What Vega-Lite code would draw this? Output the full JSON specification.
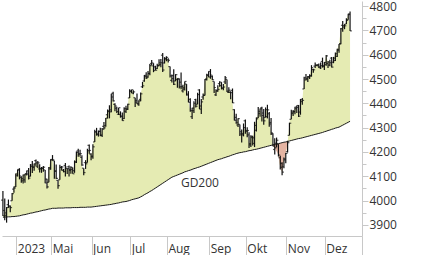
{
"$schema": "https://vega.github.io/schema/vega-lite/v6.json",
"width": 360, "height": 235, "padding": 0, "background": "white",
"config": {"view": {"stroke": null}, "axis": {"labelFont": "Open Sans", "labelFontSize": 12, "labelColor": "#333", "domainColor": "#c8c8c8", "tickColor": "#c8c8c8", "grid": false, "labelOverlap": false}},
"data": {"values": [
{"d":"2023-03-22","o":4002,"h":4039,"l":3936,"c":3937,"g":3931},
{"d":"2023-03-23","o":3959,"h":4008,"l":3919,"c":3949,"g":3932},
{"d":"2023-03-24","o":3939,"h":3973,"l":3909,"c":3971,"g":3932},
{"d":"2023-03-27","o":3983,"h":4004,"l":3970,"c":3978,"g":3933},
{"d":"2023-03-28","o":3974,"h":3979,"l":3952,"c":3971,"g":3933},
{"d":"2023-03-29","o":3999,"h":4031,"l":3999,"c":4028,"g":3934},
{"d":"2023-03-30","o":4047,"h":4058,"l":4032,"c":4051,"g":3934},
{"d":"2023-03-31","o":4056,"h":4111,"l":4056,"c":4109,"g":3935},
{"d":"2023-04-03","o":4102,"h":4128,"l":4099,"c":4125,"g":3936},
{"d":"2023-04-04","o":4128,"h":4133,"l":4087,"c":4101,"g":3937},
{"d":"2023-04-05","o":4095,"h":4100,"l":4073,"c":4090,"g":3939},
{"d":"2023-04-06","o":4081,"h":4107,"l":4070,"c":4105,"g":3941},
{"d":"2023-04-10","o":4085,"h":4110,"l":4073,"c":4109,"g":3942},
{"d":"2023-04-11","o":4110,"h":4124,"l":4103,"c":4109,"g":3944},
{"d":"2023-04-12","o":4122,"h":4134,"l":4087,"c":4092,"g":3946},
{"d":"2023-04-13","o":4100,"h":4150,"l":4099,"c":4146,"g":3948},
{"d":"2023-04-14","o":4140,"h":4163,"l":4113,"c":4138,"g":3949},
{"d":"2023-04-17","o":4137,"h":4152,"l":4123,"c":4151,"g":3951},
{"d":"2023-04-18","o":4164,"h":4169,"l":4140,"c":4155,"g":3953},
{"d":"2023-04-19","o":4139,"h":4163,"l":4134,"c":4155,"g":3954},
{"d":"2023-04-20","o":4130,"h":4149,"l":4115,"c":4130,"g":3956},
{"d":"2023-04-21","o":4132,"h":4138,"l":4114,"c":4134,"g":3958},
{"d":"2023-04-24","o":4132,"h":4142,"l":4118,"c":4137,"g":3960},
{"d":"2023-04-25","o":4126,"h":4126,"l":4071,"c":4072,"g":3961},
{"d":"2023-04-26","o":4088,"h":4090,"l":4049,"c":4056,"g":3963},
{"d":"2023-04-27","o":4075,"h":4138,"l":4075,"c":4135,"g":3965},
{"d":"2023-04-28","o":4130,"h":4170,"l":4127,"c":4169,"g":3966},
{"d":"2023-05-01","o":4167,"h":4187,"l":4164,"c":4168,"g":3968},
{"d":"2023-05-02","o":4164,"h":4164,"l":4090,"c":4120,"g":3968},
{"d":"2023-05-03","o":4122,"h":4148,"l":4089,"c":4091,"g":3968},
{"d":"2023-05-04","o":4083,"h":4083,"l":4048,"c":4061,"g":3969},
{"d":"2023-05-05","o":4085,"h":4147,"l":4085,"c":4136,"g":3969},
{"d":"2023-05-08","o":4137,"h":4142,"l":4124,"c":4138,"g":3969},
{"d":"2023-05-09","o":4124,"h":4130,"l":4116,"c":4119,"g":3969},
{"d":"2023-05-10","o":4144,"h":4154,"l":4099,"c":4138,"g":3970},
{"d":"2023-05-11","o":4132,"h":4133,"l":4109,"c":4131,"g":3970},
{"d":"2023-05-12","o":4139,"h":4144,"l":4099,"c":4124,"g":3970},
{"d":"2023-05-15","o":4127,"h":4141,"l":4110,"c":4136,"g":3970},
{"d":"2023-05-16","o":4128,"h":4136,"l":4110,"c":4110,"g":3971},
{"d":"2023-05-17","o":4123,"h":4165,"l":4114,"c":4159,"g":3971},
{"d":"2023-05-18","o":4158,"h":4202,"l":4154,"c":4198,"g":3971},
{"d":"2023-05-19","o":4204,"h":4213,"l":4180,"c":4192,"g":3971},
{"d":"2023-05-22","o":4191,"h":4209,"l":4180,"c":4193,"g":3972},
{"d":"2023-05-23","o":4177,"h":4186,"l":4143,"c":4146,"g":3972},
{"d":"2023-05-24","o":4133,"h":4133,"l":4104,"c":4115,"g":3972},
{"d":"2023-05-25","o":4156,"h":4166,"l":4130,"c":4151,"g":3972},
{"d":"2023-05-26","o":4156,"h":4213,"l":4156,"c":4205,"g":3973},
{"d":"2023-05-30","o":4227,"h":4231,"l":4192,"c":4206,"g":3973},
{"d":"2023-05-31","o":4191,"h":4195,"l":4166,"c":4180,"g":3973},
{"d":"2023-06-01","o":4183,"h":4232,"l":4172,"c":4221,"g":3974},
{"d":"2023-06-02","o":4241,"h":4291,"l":4241,"c":4282,"g":3975},
{"d":"2023-06-05","o":4283,"h":4299,"l":4267,"c":4274,"g":3976},
{"d":"2023-06-06","o":4271,"h":4288,"l":4263,"c":4284,"g":3977},
{"d":"2023-06-07","o":4285,"h":4299,"l":4264,"c":4268,"g":3978},
{"d":"2023-06-08","o":4269,"h":4298,"l":4261,"c":4294,"g":3979},
{"d":"2023-06-09","o":4305,"h":4323,"l":4292,"c":4299,"g":3980},
{"d":"2023-06-12","o":4308,"h":4340,"l":4304,"c":4339,"g":3981},
{"d":"2023-06-13","o":4353,"h":4375,"l":4338,"c":4369,"g":3982},
{"d":"2023-06-14","o":4366,"h":4392,"l":4338,"c":4373,"g":3983},
{"d":"2023-06-15","o":4365,"h":4439,"l":4363,"c":4426,"g":3984},
{"d":"2023-06-16","o":4441,"h":4448,"l":4407,"c":4410,"g":3986},
{"d":"2023-06-20","o":4396,"h":4400,"l":4367,"c":4389,"g":3987},
{"d":"2023-06-21","o":4380,"h":4386,"l":4360,"c":4366,"g":3989},
{"d":"2023-06-22","o":4355,"h":4382,"l":4352,"c":4382,"g":3990},
{"d":"2023-06-23","o":4354,"h":4367,"l":4341,"c":4348,"g":3992},
{"d":"2023-06-26","o":4345,"h":4362,"l":4328,"c":4329,"g":3994},
{"d":"2023-06-27","o":4337,"h":4384,"l":4335,"c":4378,"g":3995},
{"d":"2023-06-28","o":4367,"h":4390,"l":4360,"c":4377,"g":3996},
{"d":"2023-06-29","o":4375,"h":4398,"l":4372,"c":4396,"g":3998},
{"d":"2023-06-30","o":4422,"h":4458,"l":4422,"c":4450,"g":4000},
{"d":"2023-07-03","o":4450,"h":4456,"l":4442,"c":4456,"g":4003},
{"d":"2023-07-05","o":4442,"h":4454,"l":4437,"c":4447,"g":4005},
{"d":"2023-07-06","o":4423,"h":4423,"l":4385,"c":4412,"g":4007},
{"d":"2023-07-07","o":4405,"h":4440,"l":4397,"c":4399,"g":4009},
{"d":"2023-07-10","o":4394,"h":4413,"l":4390,"c":4410,"g":4011},
{"d":"2023-07-11","o":4416,"h":4444,"l":4408,"c":4439,"g":4015},
{"d":"2023-07-12","o":4468,"h":4488,"l":4463,"c":4472,"g":4019},
{"d":"2023-07-13","o":4492,"h":4517,"l":4489,"c":4510,"g":4024},
{"d":"2023-07-14","o":4515,"h":4528,"l":4500,"c":4505,"g":4028},
{"d":"2023-07-17","o":4509,"h":4533,"l":4505,"c":4523,"g":4032},
{"d":"2023-07-18","o":4522,"h":4562,"l":4515,"c":4555,"g":4037},
{"d":"2023-07-19","o":4564,"h":4578,"l":4557,"c":4566,"g":4041},
{"d":"2023-07-20","o":4554,"h":4565,"l":4528,"c":4535,"g":4046},
{"d":"2023-07-21","o":4550,"h":4555,"l":4536,"c":4536,"g":4051},
{"d":"2023-07-24","o":4543,"h":4563,"l":4541,"c":4555,"g":4056},
{"d":"2023-07-25","o":4555,"h":4581,"l":4552,"c":4567,"g":4061},
{"d":"2023-07-26","o":4559,"h":4582,"l":4548,"c":4567,"g":4066},
{"d":"2023-07-27","o":4598,"h":4607,"l":4529,"c":4537,"g":4071},
{"d":"2023-07-28","o":4566,"h":4590,"l":4564,"c":4582,"g":4076},
{"d":"2023-07-31","o":4585,"h":4594,"l":4573,"c":4589,"g":4081},
{"d":"2023-08-01","o":4579,"h":4585,"l":4568,"c":4577,"g":4086},
{"d":"2023-08-02","o":4551,"h":4551,"l":4506,"c":4513,"g":4091},
{"d":"2023-08-03","o":4494,"h":4519,"l":4486,"c":4502,"g":4096},
{"d":"2023-08-04","o":4514,"h":4540,"l":4475,"c":4478,"g":4099},
{"d":"2023-08-07","o":4492,"h":4520,"l":4491,"c":4518,"g":4102},
{"d":"2023-08-08","o":4498,"h":4503,"l":4464,"c":4499,"g":4105},
{"d":"2023-08-09","o":4502,"h":4502,"l":4461,"c":4468,"g":4108},
{"d":"2023-08-10","o":4487,"h":4527,"l":4458,"c":4469,"g":4111},
{"d":"2023-08-11","o":4451,"h":4476,"l":4444,"c":4464,"g":4114},
{"d":"2023-08-14","o":4458,"h":4490,"l":4453,"c":4490,"g":4118},
{"d":"2023-08-15","o":4479,"h":4479,"l":4432,"c":4438,"g":4120},
{"d":"2023-08-16","o":4434,"h":4450,"l":4404,"c":4404,"g":4123},
{"d":"2023-08-17","o":4416,"h":4421,"l":4365,"c":4370,"g":4125},
{"d":"2023-08-18","o":4345,"h":4382,"l":4335,"c":4370,"g":4128},
{"d":"2023-08-21","o":4380,"h":4408,"l":4360,"c":4400,"g":4131},
{"d":"2023-08-22","o":4415,"h":4419,"l":4383,"c":4388,"g":4133},
{"d":"2023-08-23","o":4396,"h":4443,"l":4396,"c":4436,"g":4136},
{"d":"2023-08-24","o":4455,"h":4458,"l":4376,"c":4376,"g":4138},
{"d":"2023-08-25","o":4389,"h":4418,"l":4356,"c":4406,"g":4141},
{"d":"2023-08-28","o":4426,"h":4440,"l":4415,"c":4433,"g":4144},
{"d":"2023-08-29","o":4433,"h":4500,"l":4432,"c":4498,"g":4147},
{"d":"2023-08-30","o":4500,"h":4522,"l":4494,"c":4515,"g":4150},
{"d":"2023-08-31","o":4517,"h":4532,"l":4507,"c":4508,"g":4153},
{"d":"2023-09-01","o":4531,"h":4541,"l":4501,"c":4516,"g":4156},
{"d":"2023-09-05","o":4510,"h":4514,"l":4496,"c":4497,"g":4159},
{"d":"2023-09-06","o":4490,"h":4490,"l":4442,"c":4465,"g":4162},
{"d":"2023-09-07","o":4435,"h":4458,"l":4430,"c":4451,"g":4165},
{"d":"2023-09-08","o":4451,"h":4474,"l":4448,"c":4457,"g":4168},
{"d":"2023-09-11","o":4481,"h":4491,"l":4468,"c":4487,"g":4170},
{"d":"2023-09-12","o":4473,"h":4487,"l":4457,"c":4462,"g":4172},
{"d":"2023-09-13","o":4463,"h":4479,"l":4454,"c":4467,"g":4175},
{"d":"2023-09-14","o":4488,"h":4512,"l":4479,"c":4505,"g":4177},
{"d":"2023-09-15","o":4498,"h":4498,"l":4447,"c":4450,"g":4180},
{"d":"2023-09-18","o":4445,"h":4466,"l":4442,"c":4454,"g":4182},
{"d":"2023-09-19","o":4445,"h":4450,"l":4417,"c":4444,"g":4185},
{"d":"2023-09-20","o":4453,"h":4461,"l":4401,"c":4402,"g":4188},
{"d":"2023-09-21","o":4374,"h":4376,"l":4329,"c":4330,"g":4190},
{"d":"2023-09-22","o":4342,"h":4357,"l":4316,"c":4320,"g":4193},
{"d":"2023-09-25","o":4311,"h":4339,"l":4303,"c":4337,"g":4195},
{"d":"2023-09-26","o":4313,"h":4313,"l":4266,"c":4274,"g":4197},
{"d":"2023-09-27","o":4283,"h":4292,"l":4239,"c":4275,"g":4198},
{"d":"2023-09-28","o":4270,"h":4317,"l":4264,"c":4300,"g":4200},
{"d":"2023-09-29","o":4328,"h":4333,"l":4275,"c":4288,"g":4201},
{"d":"2023-10-02","o":4285,"h":4301,"l":4260,"c":4288,"g":4203},
{"d":"2023-10-03","o":4270,"h":4281,"l":4216,"c":4229,"g":4205},
{"d":"2023-10-04","o":4234,"h":4269,"l":4220,"c":4264,"g":4206},
{"d":"2023-10-05","o":4259,"h":4267,"l":4226,"c":4258,"g":4208},
{"d":"2023-10-06","o":4235,"h":4324,"l":4220,"c":4309,"g":4210},
{"d":"2023-10-09","o":4289,"h":4342,"l":4284,"c":4336,"g":4211},
{"d":"2023-10-10","o":4340,"h":4385,"l":4340,"c":4358,"g":4213},
{"d":"2023-10-11","o":4367,"h":4379,"l":4345,"c":4377,"g":4215},
{"d":"2023-10-12","o":4381,"h":4386,"l":4325,"c":4350,"g":4217},
{"d":"2023-10-13","o":4360,"h":4377,"l":4312,"c":4328,"g":4219},
{"d":"2023-10-16","o":4342,"h":4383,"l":4342,"c":4374,"g":4221},
{"d":"2023-10-17","o":4345,"h":4394,"l":4338,"c":4373,"g":4223},
{"d":"2023-10-18","o":4357,"h":4364,"l":4304,"c":4315,"g":4225},
{"d":"2023-10-19","o":4321,"h":4340,"l":4270,"c":4278,"g":4227},
{"d":"2023-10-20","o":4274,"h":4277,"l":4223,"c":4224,"g":4229},
{"d":"2023-10-23","o":4210,"h":4256,"l":4189,"c":4217,"g":4231},
{"d":"2023-10-24","o":4236,"h":4259,"l":4219,"c":4248,"g":4233},
{"d":"2023-10-25","o":4232,"h":4232,"l":4181,"c":4187,"g":4234},
{"d":"2023-10-26","o":4176,"h":4184,"l":4128,"c":4137,"g":4236},
{"d":"2023-10-27","o":4153,"h":4157,"l":4104,"c":4117,"g":4238},
{"d":"2023-10-30","o":4139,"h":4177,"l":4133,"c":4167,"g":4240},
{"d":"2023-10-31","o":4171,"h":4196,"l":4153,"c":4194,"g":4241},
{"d":"2023-11-01","o":4201,"h":4246,"l":4198,"c":4238,"g":4243},
{"d":"2023-11-02","o":4268,"h":4320,"l":4268,"c":4318,"g":4245},
{"d":"2023-11-03","o":4334,"h":4374,"l":4334,"c":4358,"g":4247},
{"d":"2023-11-06","o":4364,"h":4372,"l":4348,"c":4366,"g":4249},
{"d":"2023-11-07","o":4366,"h":4386,"l":4355,"c":4378,"g":4251},
{"d":"2023-11-08","o":4384,"h":4391,"l":4360,"c":4383,"g":4253},
{"d":"2023-11-09","o":4391,"h":4393,"l":4344,"c":4347,"g":4255},
{"d":"2023-11-10","o":4364,"h":4418,"l":4353,"c":4415,"g":4256},
{"d":"2023-11-13","o":4407,"h":4422,"l":4394,"c":4412,"g":4258},
{"d":"2023-11-14","o":4459,"h":4509,"l":4459,"c":4496,"g":4260},
{"d":"2023-11-15","o":4505,"h":4521,"l":4495,"c":4503,"g":4262},
{"d":"2023-11-16","o":4497,"h":4512,"l":4488,"c":4508,"g":4264},
{"d":"2023-11-17","o":4510,"h":4520,"l":4500,"c":4514,"g":4266},
{"d":"2023-11-20","o":4512,"h":4557,"l":4510,"c":4547,"g":4268},
{"d":"2023-11-21","o":4539,"h":4542,"l":4526,"c":4538,"g":4270},
{"d":"2023-11-22","o":4553,"h":4568,"l":4545,"c":4557,"g":4272},
{"d":"2023-11-24","o":4556,"h":4560,"l":4553,"c":4559,"g":4274},
{"d":"2023-11-27","o":4555,"h":4564,"l":4545,"c":4550,"g":4276},
{"d":"2023-11-28","o":4546,"h":4568,"l":4541,"c":4555,"g":4278},
{"d":"2023-11-29","o":4572,"h":4588,"l":4547,"c":4551,"g":4280},
{"d":"2023-11-30","o":4555,"h":4570,"l":4537,"c":4568,"g":4283},
{"d":"2023-12-01","o":4559,"h":4599,"l":4555,"c":4595,"g":4285},
{"d":"2023-12-04","o":4564,"h":4574,"l":4545,"c":4570,"g":4288},
{"d":"2023-12-05","o":4557,"h":4579,"l":4552,"c":4567,"g":4290},
{"d":"2023-12-06","o":4586,"h":4591,"l":4547,"c":4549,"g":4293},
{"d":"2023-12-07","o":4569,"h":4591,"l":4565,"c":4586,"g":4295},
{"d":"2023-12-08","o":4576,"h":4609,"l":4574,"c":4604,"g":4298},
{"d":"2023-12-11","o":4593,"h":4624,"l":4591,"c":4622,"g":4300},
{"d":"2023-12-12","o":4618,"h":4644,"l":4608,"c":4644,"g":4302},
{"d":"2023-12-13","o":4646,"h":4710,"l":4643,"c":4707,"g":4306},
{"d":"2023-12-14","o":4721,"h":4739,"l":4694,"c":4720,"g":4310},
{"d":"2023-12-15","o":4714,"h":4726,"l":4705,"c":4719,"g":4314},
{"d":"2023-12-18","o":4726,"h":4750,"l":4726,"c":4741,"g":4318},
{"d":"2023-12-19","o":4744,"h":4769,"l":4744,"c":4768,"g":4322},
{"d":"2023-12-20","o":4765,"h":4778,"l":4698,"c":4698,"g":4326}
]},
"encoding": {"x": {"field": "d", "type": "ordinal", "title": null,
  "scale": {"type": "band", "paddingInner": 0, "paddingOuter": 0, "domain": {"unionWith": ["2023-12-21","2023-12-22","2023-12-26","2023-12-27","2023-12-28","2023-12-29"]}},
  "axis": {"values": ["2023-03-31","2023-04-28","2023-05-31","2023-06-30","2023-07-31","2023-08-31","2023-09-29","2023-10-31","2023-11-30","2023-12-29"],
    "bandPosition": 1, "tickSize": 20, "labelAlign": "left", "labelAngle": 0, "labelOffset": 2, "labelPadding": -13, "labelOverlap": false, "labelFlush": false, "labelBound": false,
    "labelExpr": "datum.value == '2023-03-31' ? '2023' : datum.value == '2023-04-28' ? 'Mai' : datum.value == '2023-05-31' ? 'Jun' : datum.value == '2023-06-30' ? 'Jul' : datum.value == '2023-07-31' ? 'Aug' : datum.value == '2023-08-31' ? 'Sep' : datum.value == '2023-09-29' ? 'Okt' : datum.value == '2023-10-31' ? 'Nov' : datum.value == '2023-11-30' ? 'Dez' : ''"}}},
"layer": [
 {"mark": {"type": "area", "color": "#e5ebb3"},
  "encoding": {"y": {"field": "c", "type": "quantitative", "title": null, "scale": {"domain": [3854, 4821], "nice": false, "zero": false},
     "axis": {"orient": "right", "tickCount": 40, "values": [3900,3950,4000,4050,4100,4150,4200,4250,4300,4350,4400,4450,4500,4550,4600,4650,4700,4750,4800], "format": "d", "labelExpr": "datum.value % 100 == 0 ? datum.label : ''", "tickSize": {"condition": {"test": "datum.value % 100 === 0", "value": 6}, "value": 4}, "labelPadding": 1, "labelOverlap": false}},
   "y2": {"field": "g"}}},
 {"transform": [{"filter": "datum.c < datum.g"}], "mark": {"type": "area", "color": "#e4b4a2"},
  "encoding": {"y": {"field": "c", "type": "quantitative", "title": null}, "y2": {"field": "g"}}},
 {"mark": {"type": "line", "color": "#1a1a1a", "strokeWidth": 1},
  "encoding": {"y": {"field": "g", "type": "quantitative", "title": null}}},
 {"mark": {"type": "rule", "color": "#111", "strokeWidth": 1.2},
  "encoding": {"y": {"field": "l", "type": "quantitative", "title": null}, "y2": {"field": "h"}}},
 {"mark": {"type": "tick", "color": "#111", "thickness": 1.2, "size": 1.8, "xOffset": -0.9},
  "encoding": {"y": {"field": "o", "type": "quantitative", "title": null}}},
 {"mark": {"type": "tick", "color": "#111", "thickness": 1.2, "size": 1.8, "xOffset": 0.9},
  "encoding": {"y": {"field": "c", "type": "quantitative", "title": null}}},
 {"transform": [{"filter": "datum.d === '2023-08-11'"}],
  "mark": {"type": "text", "text": "GD200", "align": "left", "baseline": "middle", "dy": 10, "dx": -2, "font": "Open Sans", "fontSize": 12, "color": "#333"},
  "encoding": {"y": {"field": "g", "type": "quantitative", "title": null}}}
]
}
